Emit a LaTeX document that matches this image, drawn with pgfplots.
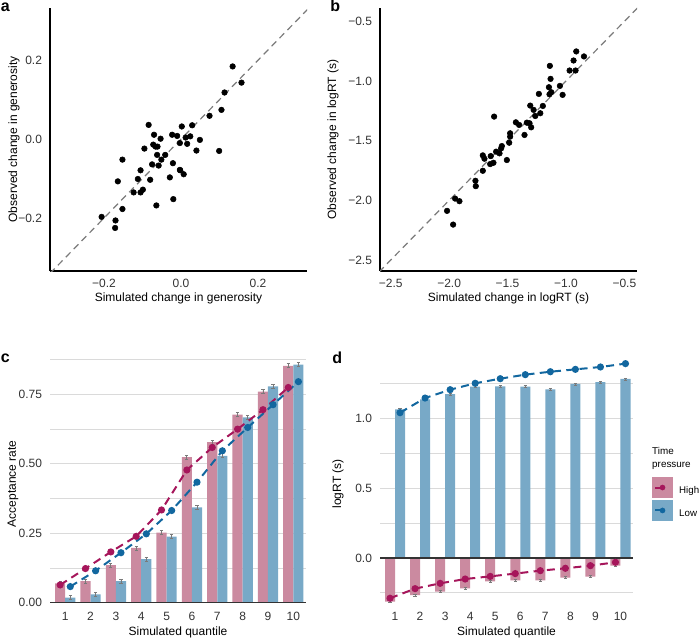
\documentclass[border=0pt]{standalone}
\usepackage{pgfplots}
\pgfplotsset{compat=1.18}
\usepackage{pgfplotstable}
\usepackage{fontspec}
\setmainfont{Liberation Sans}

\definecolor{pinkbar}{HTML}{CB8AA0}
\definecolor{bluebar}{HTML}{78A9C7}
\definecolor{magline}{HTML}{A6165B}
\definecolor{blueline}{HTML}{12679F}
\definecolor{gridc}{HTML}{DADADA}
\definecolor{dashc}{HTML}{7A7A7A}
\definecolor{tickc}{HTML}{333333}

\pgfplotstableread{
q high low hsim lsim
1 0.070 0.018 0.064 0.058
2 0.078 0.030 0.123 0.115
3 0.135 0.078 0.183 0.180
4 0.197 0.157 0.239 0.248
5 0.252 0.238 0.334 0.332
6 0.524 0.343 0.478 0.434
7 0.578 0.529 0.559 0.547
8 0.677 0.667 0.625 0.631
9 0.760 0.779 0.695 0.713
10 0.853 0.857 0.775 0.796
}\acctable

\pgfplotstableread{
q high low hsim lsim
1 -0.313 1.067 -0.289 1.043
2 -0.266 1.139 -0.220 1.148
3 -0.242 1.177 -0.182 1.208
4 -0.218 1.230 -0.151 1.254
5 -0.167 1.232 -0.132 1.287
6 -0.160 1.230 -0.112 1.316
7 -0.160 1.211 -0.091 1.337
8 -0.141 1.249 -0.074 1.354
9 -0.134 1.263 -0.055 1.371
10 -0.055 1.285 -0.031 1.395
}\rttable

\pgfplotsset{
  base/.style={
    scale only axis,
    anchor=south west,
    /pgf/number format/assume math mode=true,
    font=\fontsize{9}{10.8}\selectfont,
    tick label style={font=\fontsize{9}{10.8}\selectfont, text=tickc},
    label style={font=\fontsize{9}{10.8}\selectfont},
    major tick length=0pt, minor tick length=0pt,
    yticklabel style={xshift=-2.5pt},
    xticklabel style={yshift=-2.5pt},
  },
  scat/.style={
    base,
    axis lines*=left,
    axis line style={-, line width=1pt, black},
  },
  barax/.style={
    base,
    axis lines*=left,
    axis line style={draw=none},
    ymajorgrids, yminorgrids,
    grid style={gridc, line width=0.7pt},
    minor grid style={gridc, line width=0.7pt},
    xmin=0.4, xmax=10.5,
    xtick={1,...,10},
    xticklabels={1,2,3,4,5,6,7,8,9,10},
    clip=false,
    xticklabel style={yshift=-1pt},
  },
  diag/.style={dashc, line width=0.9pt, dash pattern=on 5pt off 3.5pt},
  pts/.style={only marks, mark=*, mark size=2.1pt, black},
  hbar/.style={ybar, bar width=0.4, bar shift=0pt, fill=pinkbar, draw=none, forget plot,
    error bars/.cd, y dir=both, y fixed=0.007,
    error bar style={dashc, line width=0.6pt},
    error mark options={rotate=90, dashc, mark size=1.2pt, line width=0.6pt}},
  lbar/.style={ybar, bar width=0.4, bar shift=0pt, fill=bluebar, draw=none, forget plot,
    error bars/.cd, y dir=both, y fixed=0.007,
    error bar style={dashc, line width=0.6pt},
    error mark options={rotate=90, dashc, mark size=1.2pt, line width=0.6pt}},
  hline/.style={magline, line width=1.5pt, dash pattern=on 6pt off 4pt, mark=*, mark size=1.9pt, mark options={solid}, forget plot},
  lline/.style={blueline, line width=1.5pt, dash pattern=on 6pt off 4pt, mark=*, mark size=1.9pt, mark options={solid}, forget plot},
}

\begin{document}
\begin{tikzpicture}[font=\fontsize{9}{10.8}\selectfont]
\useasboundingbox (0,0) rectangle (524.25pt,480pt);

% panel labels
\node[anchor=base west, inner sep=0pt, font=\bfseries\fontsize{12}{14}\selectfont] at (0.5pt,471pt) {a};
\node[anchor=base west, inner sep=0pt, font=\bfseries\fontsize{12}{14}\selectfont] at (247.5pt,471pt) {b};
\node[anchor=base west, inner sep=0pt, font=\bfseries\fontsize{12}{14}\selectfont] at (0.5pt,208.5pt) {c};
\node[anchor=base west, inner sep=0pt, font=\bfseries\fontsize{12}{14}\selectfont] at (249pt,207.75pt) {d};

% ---------- a ----------
\begin{axis}[scat, at={(37.5pt,276.75pt)}, width=192.75pt, height=197.25pt,
  xmin=-0.34, xmax=0.327, ymin=-0.334, ymax=0.332,
  xtick={-0.2,0,0.2}, xticklabels={−0.2,0.0,0.2},
  ytick={-0.2,0,0.2}, yticklabels={−0.2,0.0,0.2},
  xlabel={Simulated change in generosity},
  ylabel={Observed change in generosity},
  xlabel style={at={(axis description cs:0.5,-0.103)}, anchor=center},
  ylabel style={at={(axis description cs:-0.14,0.5)}, anchor=center},
]
\addplot[pts] coordinates {
(0.134,0.184) (0.157,0.143) (0.113,0.118) (0.105,0.074) (0.074,0.059) (0.029,0.035)
(0.002,0.032) (-0.084,0.036) (-0.070,0.011) (-0.053,0.001) (-0.023,0.011) (-0.010,0.008)
(-0.003,-0.010) (0.012,0.004) (0.024,0.007) (0.016,-0.012) (0.049,-0.002) (0.040,-0.029)
(0.099,-0.030) (-0.095,-0.024) (-0.072,-0.014) (-0.066,-0.019) (-0.061,-0.019) (-0.062,-0.040)
(-0.041,-0.040) (-0.051,-0.052) (-0.075,-0.064) (-0.058,-0.067) (-0.021,-0.061) (-0.152,-0.052)
(-0.105,-0.079) (-0.112,-0.101) (-0.080,-0.103) (-0.029,-0.097) (-0.003,-0.078) (0.007,-0.089)
(-0.002,-0.079) (-0.164,-0.107) (-0.123,-0.135) (-0.105,-0.135) (-0.099,-0.128) (-0.020,-0.152)
(-0.064,-0.168) (-0.152,-0.177) (-0.206,-0.197) (-0.170,-0.206) (-0.171,-0.225)
};
\addplot[diag] coordinates {(-0.34,-0.34) (0.34,0.34)};
\end{axis}

% ---------- b ----------
\begin{axis}[scat, at={(285pt,276.75pt)}, width=192.75pt, height=197.25pt,
  xmin=-2.592, xmax=-0.392, ymin=-2.592, ymax=-0.388,
  xtick={-2.5,-2,-1.5,-1,-0.5}, xticklabels={−2.5,−2.0,−1.5,−1.0,−0.5},
  ytick={-2.5,-2,-1.5,-1,-0.5}, yticklabels={−2.5,−2.0,−1.5,−1.0,−0.5},
  xlabel={Simulated change in logRT (s)},
  ylabel={Observed change in logRT (s)},
  xlabel style={at={(axis description cs:0.5,-0.103)}, anchor=center},
  ylabel style={at={(axis description cs:-0.183,0.5)}, anchor=center},
]
\addplot[pts] coordinates {
(-0.912,-0.752) (-0.935,-0.828) (-0.846,-0.794) (-0.969,-0.912) (-0.918,-0.912) (-1.138,-0.873)
(-1.132,-0.982) (-1.146,-1.052) (-1.052,-1.041) (-1.126,-1.094) (-1.141,-1.111) (-1.029,-1.116)
(-1.232,-1.108) (-1.198,-1.209) (-1.306,-1.206) (-1.277,-1.242) (-1.220,-1.270) (-1.263,-1.293)
(-1.615,-1.298) (-1.429,-1.346) (-1.401,-1.368) (-1.335,-1.349) (-1.312,-1.354) (-1.298,-1.388)
(-1.355,-1.452) (-1.478,-1.438) (-1.478,-1.466) (-1.486,-1.517) (-1.549,-1.545) (-1.555,-1.564)
(-1.598,-1.592) (-1.569,-1.606) (-1.506,-1.662) (-1.712,-1.623) (-1.698,-1.651) (-1.644,-1.629)
(-1.621,-1.685) (-1.649,-1.696) (-1.712,-1.752) (-1.775,-1.836) (-1.772,-1.881) (-1.949,-1.985)
(-1.912,-2.007) (-2.018,-2.088) (-1.966,-2.203)
};
\addplot[diag] coordinates {(-2.6,-2.6) (-0.38,-0.38)};
\end{axis}

% ---------- c ----------
\begin{axis}[barax, at={(37.5pt,27.975pt)}, width=192pt, height=185.775pt,
  ymin=0, ymax=0.892,
  ytick={0,0.25,0.5,0.75}, yticklabels={0.00,0.25,0.50,0.75},
  minor ytick={0.125,0.375,0.625,0.875},
  xlabel={Simulated quantile}, ylabel={Acceptance rate},
  xlabel style={at={(axis description cs:0.5,-0.121)}, anchor=center},
  ylabel style={at={(axis description cs:-0.145,0.48)}, anchor=center},
]
\addplot[hbar] table[x expr=\thisrow{q}-0.2, y=high] {\acctable};
\addplot[lbar] table[x expr=\thisrow{q}+0.2, y=low] {\acctable};
\addplot[tickc, line width=0.8pt, forget plot] coordinates {(0.4,0) (10.5,0)};
\addplot[hline] table[x expr=\thisrow{q}-0.2, y=hsim] {\acctable};
\addplot[lline] table[x expr=\thisrow{q}+0.2, y=lsim] {\acctable};
\end{axis}

% ---------- d ----------
\begin{axis}[barax, at={(285pt,27.975pt)}, width=189.75pt, height=185.775pt,
  ymin=-0.321, ymax=1.457,
  ytick={0,0.5,1}, yticklabels={0.0,0.5,1.0},
  minor ytick={-0.25,0.25,0.75,1.25},
  xlabel={Simulated quantile}, ylabel={logRT (s)},
  xlabel style={at={(axis description cs:0.5,-0.121)}, anchor=center},
  ylabel style={at={(axis description cs:-0.166,0.48)}, anchor=center},
  legend style={at={(axis description cs:1.075,0.5075)}, anchor=north west,
    draw=none, fill=none, inner sep=0pt, row sep=1.8pt,
    font=\fontsize{7.3}{9}\selectfont,
    nodes={inner sep=0pt, text height=5.2pt, text depth=0pt, yshift=-2.2pt},
    /tikz/every odd column/.append style={column sep=4.8pt}},
  legend cell align=left,
]
\addplot[hbar] table[x expr=\thisrow{q}-0.2, y=high] {\rttable};
\addplot[lbar] table[x expr=\thisrow{q}+0.2, y=low] {\rttable};
\addplot[tickc, line width=0.8pt, forget plot] coordinates {(0.4,0) (10.5,0)};
\addplot[hline] table[x expr=\thisrow{q}-0.2, y=hsim] {\rttable};
\addplot[lline] table[x expr=\thisrow{q}+0.2, y=lsim] {\rttable};
\addlegendimage{legend image code/.code={
  \fill[pinkbar] (0pt,-7.5pt) rectangle (15pt,7.5pt);
  \draw[magline, line width=1.5pt] (2pt,0pt) -- (7.5pt,0pt);
  \fill[magline] (7.5pt,0pt) circle (1.9pt);}}
\addlegendentry{High}
\addlegendimage{legend image code/.code={
  \fill[bluebar] (0pt,-7.5pt) rectangle (15pt,7.5pt);
  \draw[blueline, line width=1.5pt] (2pt,0pt) -- (7.5pt,0pt);
  \fill[blueline] (7.5pt,0pt) circle (1.9pt);}}
\addlegendentry{Low}
\node[anchor=south west, align=left, inner sep=0pt, font=\fontsize{7.4}{9.7}\selectfont]
  at (axis description cs:1.075,0.536) {Time\\pressure};
\end{axis}
\end{tikzpicture}
\end{document}
